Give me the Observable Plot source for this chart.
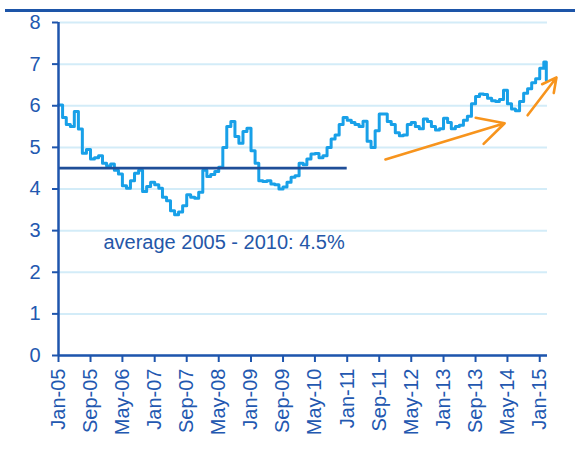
<!DOCTYPE html>
<html>
<head>
<meta charset="utf-8">
<script src="https://cdn.jsdelivr.net/npm/d3@7"></script>
<script src="https://cdn.jsdelivr.net/npm/@observablehq/plot@0.6"></script>
<style>
  html, body { margin: 0; padding: 0; background: #fff; }
  #wrap { position: relative; width: 575px; height: 459px; overflow: hidden; }
  #topbar { position: absolute; top: 9px; left: 5px; right: 0; height: 3px; background: #1D55A8; }
</style>
</head>
<body>
<div id="wrap"><div id="topbar"></div><div id="chart"></div></div>
<script>
// Monthly series, starting Jan 2005
const startMonth = "2005-01";
const values = [
  6.02, 5.72, 5.55, 5.50, 5.86, 5.44, 4.86, 4.95, 4.72, 4.75, 4.80, 4.62,
  4.55, 4.60, 4.45, 4.36, 4.08, 4.02, 4.20, 4.38, 4.45, 3.94, 4.06, 4.16,
  4.10, 4.02, 3.80, 3.72, 3.48, 3.38, 3.45, 3.60, 3.86, 3.80, 3.78, 3.92,
  4.45, 4.30, 4.35, 4.42, 4.52, 5.00, 5.50, 5.62, 5.26, 5.10, 5.38, 5.46,
  4.92, 4.62, 4.20, 4.18, 4.20, 4.12, 4.10, 4.00, 4.05, 4.16, 4.28, 4.32,
  4.62, 4.58, 4.72, 4.84, 4.85, 4.75, 4.80, 5.00, 5.20, 5.30, 5.55, 5.72,
  5.65, 5.60, 5.55, 5.50, 5.63, 5.15, 5.00, 5.40, 5.80, 5.80, 5.62, 5.55,
  5.35, 5.28, 5.30, 5.55, 5.60, 5.50, 5.45, 5.68, 5.62, 5.50, 5.42, 5.45,
  5.70, 5.60, 5.45, 5.50, 5.53, 5.65, 5.75, 6.05, 6.22, 6.28, 6.27, 6.18,
  6.12, 6.10, 6.15, 6.37, 6.05, 5.92, 5.88, 6.10, 6.30, 6.41, 6.55, 6.65,
  6.90, 7.05
];
const lastDate = "2015-02-20";
const lastValue = 6.62;

const tickLabels = ["Jan-05","Sep-05","May-06","Jan-07","Sep-07","May-08","Jan-09","Sep-09",
  "May-10","Jan-11","Sep-11","May-12","Jan-13","Sep-13","May-14","Jan-15"];

const avgStart = "2005-01-01", avgEnd = "2011-01-01", avgValue = 4.5;
const avgLabel = "average 2005 - 2010: 4.5%";
const avgLabelPos = {date: "2005-12-08", value: 2.72};

const arrows = [
  {x1: "2011-10-18", y1: 4.71, x2: "2014-04-10", y2: 5.58},
  {x1: "2014-10-01", y1: 5.77, x2: "2015-05-08", y2: 6.68}
];

const yTicks = [0, 1, 2, 3, 4, 5, 6, 7, 8];
const xDomain = ["2005-01-01", "2015-03-01"];

// build
const parseTick = d3.utcParse("%b-%y");
const start = d3.utcParse("%Y-%m")(startMonth);
const series = values.map((v, i) => ({date: d3.utcMonth.offset(start, i), value: v}));
series.push({date: new Date(lastDate), value: lastValue});
const tickDates = tickLabels.map(parseTick);
const labelOf = new Map(tickDates.map((d, i) => [+d, tickLabels[i]]));
const arrowData = arrows.map(a => ({x1: new Date(a.x1), y1: a.y1, x2: new Date(a.x2), y2: a.y2}));

const axisColor = "#1E55AD";
const textColor = "#2358B0";

const chart = Plot.plot({
  width: 575,
  height: 459,
  marginLeft: 58,
  marginRight: 28,
  marginTop: 22,
  marginBottom: 104,
  style: {fontFamily: "'Liberation Sans', Arial, sans-serif", fontSize: "20px", color: textColor, background: "transparent"},
  x: {type: "utc", domain: xDomain.map(d => new Date(d))},
  y: {domain: [0, 8]},
  marks: [
    Plot.gridY(yTicks, {stroke: "#D3ECF8", strokeOpacity: 1, strokeWidth: 2}),
    Plot.axisY(yTicks, {tickSize: 6, tickPadding: 12, stroke: axisColor, strokeWidth: 2, fill: textColor, fontSize: 20, label: null}),
    Plot.axisX(tickDates, {tickSize: 7, tickPadding: 6, tickRotate: -90, stroke: axisColor, strokeWidth: 2, fill: textColor, fontSize: 20, label: null,
      tickFormat: d => labelOf.get(+d)}),
    Plot.lineY(series, {x: "date", y: "value", curve: "step-after", stroke: "#18A0E8", strokeWidth: 3}),
    Plot.ruleY([avgValue], {x1: new Date(avgStart), x2: new Date(avgEnd), stroke: "#1F4E98", strokeWidth: 2.8}),
    Plot.ruleX([new Date(xDomain[0])], {y1: 0, y2: 8, stroke: axisColor, strokeWidth: 2.5}),
    Plot.ruleY([0], {stroke: axisColor, strokeWidth: 2.5}),
    Plot.text([avgLabelPos], {x: d => new Date(d.date), y: "value", text: () => avgLabel, textAnchor: "start", fill: "#2457A8", fontSize: 20}),
    Plot.arrow(arrowData, {x1: "x1", y1: "y1", x2: "x2", y2: "y2", stroke: "#F7941D", strokeWidth: 2.6, headLength: 17, headAngle: 55})
  ]
});
document.getElementById("chart").appendChild(chart);
</script>
</body>
</html>
